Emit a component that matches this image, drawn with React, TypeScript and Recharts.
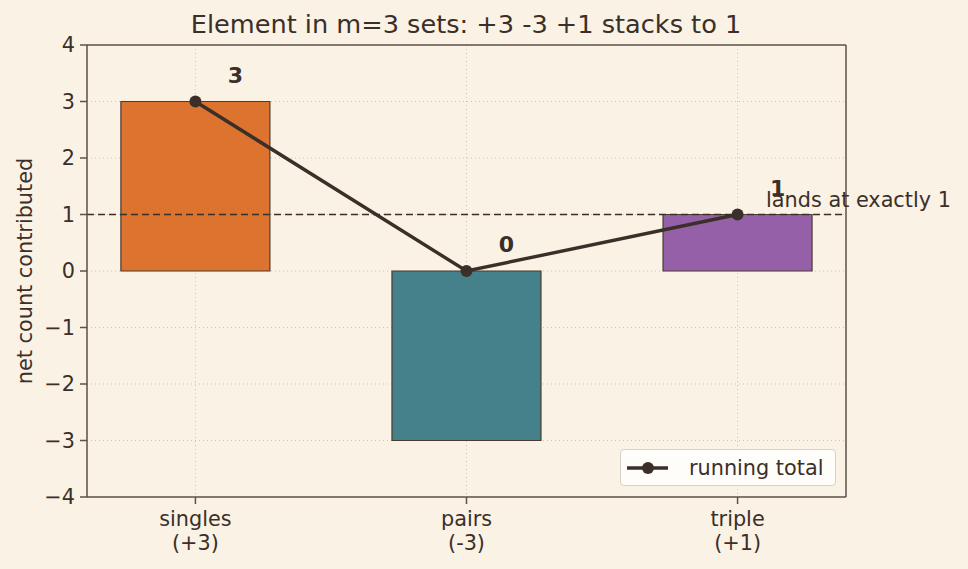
import React from 'react';
import { ComposedChart, Bar, Line, XAxis, YAxis, CartesianGrid, ReferenceLine, ReferenceDot, Cell, LabelList } from 'recharts';

const categories = ['singles', 'pairs', 'triple'];
const subLabels = ['(+3)', '(-3)', '(+1)'];
const contributions = [3, -3, 1];
const runningTotal = [3, 0, 1];
const barColors = ['#dc732e', '#44818b', '#9660a8'];
const yTicks = [-4, -3, -2, -1, 0, 1, 2, 3, 4];

const data = categories.map((c, i) => ({ x: i, name: c, value: contributions[i], total: runningTotal[i] }));

const BG = '#faf2e4';
const INK = '#3b2f29';
const AXIS = '#5e5248';
const FONT = "'DejaVu Sans', sans-serif";
const FS = 20.8;

const XTick = (props: any) => {
  const { x, y, payload } = props;
  const i = payload.value;
  return (
    <g>
      <text x={x} y={y + 20} textAnchor="middle" fontSize={FS} fill={INK} style={{ fontFamily: FONT }}>{categories[i]}</text>
      <text x={x} y={y + 44} textAnchor="middle" fontSize={FS} fill={INK} style={{ fontFamily: FONT }}>{subLabels[i]}</text>
    </g>
  );
};

const ValueLabel = (props: any) => {
  const { x, y, value } = props;
  return (
    <text x={x + 40} y={y - 19} textAnchor="middle" fontSize={22} fontWeight="bold" fill={INK} style={{ fontFamily: FONT }}>{value}</text>
  );
};

export default function App() {
  return (
    <div style={{ position: 'fixed', left: 0, top: 0, width: 968, height: 569, background: BG, fontFamily: FONT }}>
      <ComposedChart width={968} height={569} data={data} margin={{ top: 45, right: 122, bottom: 12, left: 27 }} style={{ fontFamily: FONT }}>
        <text x={466} y={33} textAnchor="middle" fontSize={25.6} fill={INK} style={{ fontFamily: FONT }}>Element in m=3 sets: +3 -3 +1 stacks to 1</text>
        <text x={32} y={271} transform="rotate(-90 32 271)" textAnchor="middle" fontSize={FS} fill={INK} style={{ fontFamily: FONT }}>net count contributed</text>
        <CartesianGrid stroke="#cbc3b6" strokeDasharray="1 3" />
        <XAxis dataKey="x" type="number" domain={[-0.4, 2.4]} ticks={[0, 1, 2]} tick={<XTick />} height={60} stroke={AXIS} strokeWidth={1.5} tickSize={7} interval={0} />
        <YAxis type="number" domain={[-4, 4]} ticks={yTicks} width={60} stroke={AXIS} strokeWidth={1.5} tickSize={7} tickMargin={5} tickFormatter={(v: number) => (v < 0 ? '\u2212' + Math.abs(v) : String(v))} tick={{ fill: INK, fontSize: FS, fontFamily: FONT }} />
        <ReferenceLine y={4} stroke={AXIS} strokeWidth={1.5} />
        <ReferenceLine x={2.4} stroke={AXIS} strokeWidth={1.5} />
        <Bar dataKey="value" barSize={149} stroke="#4a3a30" strokeWidth={1.2} isAnimationActive={false}>
          {data.map((d, i) => <Cell key={i} fill={barColors[i]} />)}
        </Bar>
        <ReferenceLine y={1} stroke={INK} strokeDasharray="7 4" strokeWidth={1.6} />
        <Line dataKey="total" stroke={INK} strokeWidth={3.4} dot={{ r: 6, fill: INK, stroke: INK, strokeWidth: 0 }} isAnimationActive={false} name="running total">
          <LabelList dataKey="total" content={<ValueLabel />} />
        </Line>
        <ReferenceDot x={2.105} y={1.0} r={0} fill="none" stroke="none" label={(p: any) => (
          <text x={p.viewBox.cx ?? p.viewBox.x} y={(p.viewBox.cy ?? p.viewBox.y) - 8} textAnchor="start" fontSize={FS} fill={INK} style={{ fontFamily: FONT }}>lands at exactly 1</text>
        )} />
      </ComposedChart>
      <div style={{ position: 'absolute', left: 620, top: 449, width: 216, height: 37, background: '#fffdf9', border: '1px solid #d8d2c8', borderRadius: 4, boxSizing: 'border-box', display: 'flex', alignItems: 'center', fontFamily: FONT, fontSize: FS, color: INK }}>
        <svg width={62} height={20}>
          <line x1={6} y1={10} x2={47} y2={10} stroke={INK} strokeWidth={3.4} />
          <circle cx={27} cy={10} r={6} fill={INK} />
        </svg>
        <span style={{ marginLeft: 6 }}>running total</span>
      </div>
    </div>
  );
}
